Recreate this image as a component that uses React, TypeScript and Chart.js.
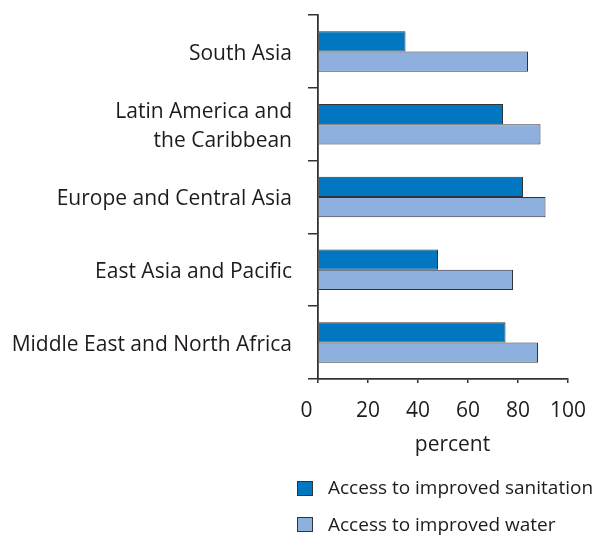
import React, { useEffect, useRef } from "react";
import { Chart, registerables } from "chart.js";

Chart.register(...registerables);

// Regions (multi-line labels are arrays of lines)
const regions: string[][] = [
  ["South Asia"],
  ["Latin America and", "the Caribbean"],
  ["Europe and Central Asia"],
  ["East Asia and Pacific"],
  ["Middle East and North Africa"],
];

// Share of population with access, percent
const sanitation = [35, 74, 82, 48, 75];
const water = [84, 89, 91, 78, 88];

const seriesNames = ["Access to improved sanitation", "Access to improved water"];
const seriesColors = ["#0077c0", "#8db0de"];

const xMin = 0;
const xMax = 100;
const xStep = 20;
const xTitle = "percent";

const FONT = "'Open Sans', 'Noto Sans', sans-serif";
const FONT_SIZE = 21;
const TEXT = "#1f1b1c";
const LINE = "#333333";

const X_TICK_LEN = 4;
const X_TICK_PAD = 15;

// Small typographic adjustments: region labels sit a little lower, the
// axis title is set slightly right of centre and the zero label is pulled
// left so it clears the vertical axis.
const axisTypography = {
  id: "axisTypography",
  beforeDraw(chart: any) {
    const { ctx } = chart;
    const y = chart.scales.y;
    const x = chart.scales.x;
    if (y && !y.__wrapped) {
      const drawLabels = y.drawLabels.bind(y);
      y.drawLabels = (area: any) => {
        ctx.save();
        ctx.translate(0, 2.5);
        drawLabels(area);
        ctx.restore();
      };
      y.__wrapped = true;
    }
    if (x && !x.__wrapped) {
      const drawTitle = x.drawTitle.bind(x);
      x.drawTitle = (area: any) => {
        ctx.save();
        ctx.translate(9.5, 0);
        drawTitle(area);
        ctx.restore();
      };
      x.__wrapped = true;
    }
  },
  afterDraw(chart: any) {
    const { ctx } = chart;
    const x = chart.scales.x;
    if (!x) return;
    const lineHeight = FONT_SIZE * 1.2;
    ctx.save();
    ctx.font = `${FONT_SIZE}px ${FONT}`;
    ctx.fillStyle = TEXT;
    ctx.textAlign = "center";
    ctx.textBaseline = "middle";
    ctx.fillText(String(xMin), x.getPixelForValue(xMin) - 11.5, x.top + X_TICK_LEN + X_TICK_PAD + lineHeight / 2);
    ctx.restore();
  },
};

export default function App() {
  const canvasRef = useRef<HTMLCanvasElement | null>(null);

  useEffect(() => {
    const canvas = canvasRef.current;
    if (!canvas) return;
    const chart = new Chart(canvas, {
      type: "bar",
      data: {
        labels: regions,
        datasets: [
          {
            label: seriesNames[0],
            data: sanitation,
            backgroundColor: seriesColors[0],
            borderColor: LINE,
            borderWidth: 1,
            barPercentage: 1,
            categoryPercentage: 0.557,
          },
          {
            label: seriesNames[1],
            data: water,
            backgroundColor: seriesColors[1],
            borderColor: LINE,
            borderWidth: 1,
            barPercentage: 1,
            categoryPercentage: 0.557,
          },
        ],
      },
      options: {
        indexAxis: "y",
        animation: false,
        responsive: false,
        maintainAspectRatio: false,
        layout: { padding: { top: 15, right: 26, bottom: 76, left: 0 } },
        plugins: {
          legend: { display: false },
          tooltip: { enabled: false },
        },
        scales: {
          y: {
            type: "category",
            offset: true,
            grid: {
              offset: true,
              drawOnChartArea: false,
              drawTicks: true,
              tickLength: 10,
              color: LINE,
              lineWidth: 1.5,
            },
            border: { display: true, color: LINE, width: 1.8 },
            ticks: {
              color: TEXT,
              padding: 16,
              font: { family: FONT, size: FONT_SIZE, lineHeight: 1.36 },
            },
            afterFit: (scale: any) => {
              scale.width = 318;
              scale.paddingTop = 0;
              scale.paddingBottom = 0;
            },
          },
          x: {
            type: "linear",
            min: xMin,
            max: xMax,
            grid: {
              drawOnChartArea: false,
              drawTicks: true,
              tickLength: X_TICK_LEN,
              color: LINE,
              lineWidth: 1.5,
            },
            border: { display: true, color: LINE, width: 1.8 },
            ticks: {
              stepSize: xStep,
              color: TEXT,
              padding: X_TICK_PAD,
              font: { family: FONT, size: FONT_SIZE },
              // the zero label is set separately by axisTypography
              callback: (value: any) => (Number(value) === xMin ? "" : String(value)),
            },
            title: {
              display: true,
              text: xTitle,
              color: TEXT,
              padding: { top: 0, bottom: 1 },
              font: { family: FONT, size: FONT_SIZE },
            },
            afterFit: (scale: any) => {
              scale.height = 80;
              scale.paddingLeft = 0;
              scale.paddingRight = 0;
            },
          },
        },
      },
      plugins: [axisTypography],
    });
    return () => chart.destroy();
  }, []);

  const swatch = (color: string, top: number) => (
    <div
      style={{
        position: "absolute",
        left: 297,
        top,
        width: 14,
        height: 13,
        background: color,
        border: `1px solid ${LINE}`,
      }}
    />
  );

  const legendText = (text: string, top: number) => (
    <div
      style={{
        position: "absolute",
        left: 328,
        top,
        fontFamily: FONT,
        fontSize: 19,
        lineHeight: "20px",
        color: TEXT,
        whiteSpace: "nowrap",
      }}
    >
      {text}
    </div>
  );

  return (
    <div style={{ position: "absolute", left: 0, top: 0, width: 594, height: 535, background: "#fff" }}>
      <canvas ref={canvasRef} width={594} height={535} style={{ display: "block" }} />
      {swatch(seriesColors[0], 481)}
      {legendText(seriesNames[0], 477)}
      {swatch(seriesColors[1], 517)}
      {legendText(seriesNames[1], 514)}
    </div>
  );
}
